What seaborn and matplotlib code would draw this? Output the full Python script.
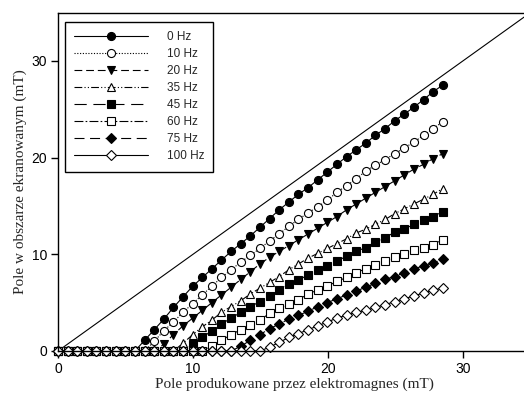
import matplotlib
matplotlib.use("Agg")
import matplotlib.pyplot as plt
import seaborn as sns
import pandas as pd

# ---------------- data ----------------
field_mT = [0.0, 0.71, 1.43, 2.14, 2.85, 3.56, 4.28, 4.99, 5.7, 6.41,
            7.13, 7.84, 8.55, 9.26, 9.98, 10.69, 11.4, 12.11, 12.83, 13.54,
            14.25, 14.96, 15.68, 16.39, 17.1, 17.81, 18.53, 19.24, 19.95, 20.66,
            21.38, 22.09, 22.8, 23.51, 24.23, 24.94, 25.65, 26.36, 27.08, 27.79,
            28.5]

series_labels = ["0 Hz", "10 Hz", "20 Hz", "35 Hz", "45 Hz", "60 Hz", "75 Hz", "100 Hz"]

y_0hz = [0, 0, 0, 0, 0, 0, 0, 0, 0,
         1.1, 2.2, 3.3, 4.5, 5.6, 6.7, 7.6, 8.5, 9.4, 10.3, 11.1, 11.9, 12.8, 13.7, 14.6, 15.4,
         16.2, 16.9, 17.7, 18.5, 19.3, 20.1, 20.8, 21.5, 22.3, 23.0, 23.8, 24.5, 25.2, 26.0,
         26.8, 27.5]
y_10hz = [0, 0, 0, 0, 0, 0, 0, 0, 0, 0,
          1.0, 2.1, 3.0, 4.0, 4.9, 5.8, 6.7, 7.6, 8.4, 9.2, 9.9, 10.6, 11.4, 12.1, 12.9,
          13.6, 14.3, 14.9, 15.6, 16.4, 17.1, 17.8, 18.6, 19.2, 19.8, 20.4, 21.0, 21.6, 22.3,
          23.0, 23.7]
y_20hz = [0, 0, 0, 0, 0, 0, 0, 0, 0, 0, 0,
          0.7, 1.7, 2.6, 3.4, 4.2, 5.0, 5.8, 6.6, 7.4, 8.2, 9.0, 9.7, 10.3, 10.9, 11.5,
          12.1, 12.7, 13.3, 13.9, 14.6, 15.2, 15.8, 16.4, 17.0, 17.6, 18.2, 18.8, 19.3,
          19.9, 20.4]
y_35hz = [0, 0, 0, 0, 0, 0, 0, 0, 0, 0, 0, 0, 0,
          0.8, 1.7, 2.5, 3.2, 4.0, 4.6, 5.2, 5.9, 6.5, 7.1, 7.7, 8.4, 9.0, 9.6, 10.1,
          10.6, 11.1, 11.6, 12.2, 12.6, 13.1, 13.6, 14.2, 14.7, 15.2, 15.7, 16.2, 16.8]
y_45hz = [0, 0, 0, 0, 0, 0, 0, 0, 0, 0, 0, 0, 0, 0,
          0.7, 1.4, 2.1, 2.8, 3.4, 4.0, 4.6, 5.1, 5.7, 6.3, 6.9, 7.3, 7.9, 8.4, 8.8,
          9.3, 9.8, 10.3, 10.7, 11.3, 11.7, 12.3, 12.6, 13.1, 13.5, 13.9, 14.4]
y_60hz = [0, 0, 0, 0, 0, 0, 0, 0, 0, 0, 0, 0, 0, 0, 0, 0,
          0.5, 1.1, 1.7, 2.2, 2.7, 3.2, 3.9, 4.4, 4.9, 5.3, 5.9, 6.3, 6.7, 7.2, 7.6,
          8.1, 8.5, 8.9, 9.3, 9.7, 10.0, 10.4, 10.7, 11.0, 11.5]
y_75hz = [0, 0, 0, 0, 0, 0, 0, 0, 0, 0, 0, 0, 0, 0, 0, 0, 0, 0, 0,
          0.5, 1.1, 1.7, 2.3, 2.8, 3.3, 3.7, 4.1, 4.6, 5.0, 5.4, 5.8, 6.2, 6.6, 7.0,
          7.4, 7.7, 8.1, 8.5, 8.8, 9.1, 9.5]
y_100hz = [0, 0, 0, 0, 0, 0, 0, 0, 0, 0, 0, 0, 0, 0, 0, 0, 0, 0, 0, 0, 0, 0,
           0.4, 0.9, 1.4, 1.8, 2.2, 2.6, 3.0, 3.4, 3.7, 4.0, 4.2, 4.5, 4.8, 5.1, 5.4,
           5.7, 6.0, 6.3, 6.5]

identity_x = [0, 35]
identity_y = [0, 35]

x_ticks = [0, 10, 20, 30]
y_ticks = [0, 10, 20, 30]

series_values = [y_0hz, y_10hz, y_20hz, y_35hz, y_45hz, y_60hz, y_75hz, y_100hz]

frames = []
for lab, vals in zip(series_labels, series_values):
    frames.append(pd.DataFrame({"field": field_mT, "screened": vals, "freq": lab}))
df = pd.concat(frames, ignore_index=True)

# ---------------- styling ----------------
sns.set_style("ticks")
plt.rcParams['font.family'] = ['Liberation Sans', 'DejaVu Sans']

styles = {
    "0 Hz":   dict(marker='o', mfc='black', ls='-', ms=5.8),
    "10 Hz":  dict(marker='o', mfc='white', ls=(0, (1, 1.5)), ms=5.8),
    "20 Hz":  dict(marker='v', mfc='black', ls=(0, (7, 3.5)), ms=6.4),
    "35 Hz":  dict(marker='^', mfc='white', ls=(0, (7, 2, 1, 2, 1, 2)), ms=6.4),
    "45 Hz":  dict(marker='s', mfc='black', ls=(0, (11, 6)), ms=5.6),
    "60 Hz":  dict(marker='s', mfc='white', ls=(0, (8, 2, 1.5, 2)), ms=5.6),
    "75 Hz":  dict(marker='D', mfc='black', ls=(0, (9, 5)), ms=5.0),
    "100 Hz": dict(marker='D', mfc='white', ls='-', ms=5.0),
}

fig = plt.figure(figsize=(5.24, 4.05), dpi=100)
ax = fig.add_axes([58 / 524, 54 / 405, 472.5 / 524, 338.5 / 405])

sns.lineplot(x=identity_x, y=identity_y, color='black', linewidth=0.8, ax=ax)

for lab in series_labels:
    st = styles[lab]
    sub = df[df["freq"] == lab]
    sns.lineplot(data=sub, x="field", y="screened", ax=ax, color='black',
                 linewidth=0.8, linestyle=st['ls'], marker=st['marker'],
                 markersize=st['ms'], markerfacecolor=st['mfc'],
                 markeredgecolor='black', markeredgewidth=0.8,
                 label=lab, clip_on=False, estimator=None, sort=False)

ax.set_xlim(0, 35)
ax.set_ylim(0, 35)
ax.set_xticks(x_ticks)
ax.set_yticks(y_ticks)
ax.tick_params(direction='out', length=5, width=1, labelsize=10, colors='black', pad=3)
for sp in ax.spines.values():
    sp.set_color('black')
    sp.set_linewidth(1)

ax.set_xlabel("Pole produkowane przez elektromagnes (mT)", family='Liberation Serif',
              fontsize=11, labelpad=1)
ax.set_ylabel("Pole w obszarze ekranowanym (mT)", family='Liberation Serif',
              fontsize=11, labelpad=3)

leg = ax.legend(loc='upper left', bbox_to_anchor=(65 / 524, 1 - 22 / 405),
                bbox_transform=fig.transFigure, borderaxespad=0, frameon=True,
                fancybox=False, framealpha=1, edgecolor='black', fontsize=8.5,
                handlelength=6.2, handletextpad=1.6, labelspacing=0.42,
                borderpad=0.8, numpoints=1)
leg.get_frame().set_linewidth(1)

fig.savefig("out.png", dpi=100)
